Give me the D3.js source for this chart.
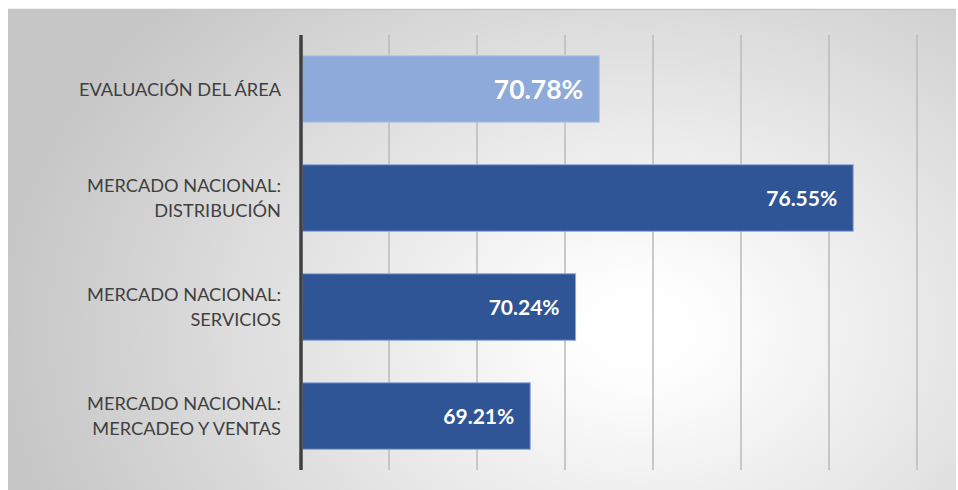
<!DOCTYPE html>
<html>
<head>
<meta charset="utf-8">
<script src="https://cdn.jsdelivr.net/npm/d3@7"></script>
<style>
  html, body { margin: 0; padding: 0; background: #ffffff; }
  svg { display: block; }
</style>
</head>
<body>
<svg id="chart" width="958" height="490"></svg>
<script>
// Categories (top to bottom) and their scores in percent
const categories = [
  ["EVALUACIÓN DEL ÁREA"],
  ["MERCADO NACIONAL:", "DISTRIBUCIÓN"],
  ["MERCADO NACIONAL:", "SERVICIOS"],
  ["MERCADO NACIONAL:", "MERCADEO Y VENTAS"]
];
const values = [70.78, 76.55, 70.24, 69.21];
const highlight = [true, false, false, false];
const xTicks = [64, 66, 68, 70, 72, 74, 76, 78];

const W = 958, H = 490;
const svg = d3.select("#chart");

// Background panel with soft radial shading
const defs = svg.append("defs");
const grad = defs.append("radialGradient")
  .attr("id", "bg")
  .attr("gradientUnits", "userSpaceOnUse")
  .attr("cx", 640).attr("cy", 330).attr("r", 640)
  .attr("gradientTransform", "translate(640,330) scale(1,0.75) translate(-640,-330)");
grad.append("stop").attr("offset", "0%").attr("stop-color", "#ffffff");
grad.append("stop").attr("offset", "12%").attr("stop-color", "#fdfdfd");
grad.append("stop").attr("offset", "100%").attr("stop-color", "#c6c6c6");

svg.append("rect")
  .attr("x", 8).attr("y", 9).attr("width", W - 10).attr("height", H - 9)
  .attr("fill", "url(#bg)");
svg.append("line")
  .attr("x1", 8).attr("x2", W - 2).attr("y1", 9.5).attr("y2", 9.5)
  .attr("stroke", "#c8c8c8").attr("stroke-width", 1.5);

const plot = { left: 301, right: 917, top: 35, bottom: 470 };

const x = d3.scaleLinear().domain([64, 78]).range([plot.left, plot.right]);
const y = d3.scaleBand()
  .domain(d3.range(categories.length))
  .range([plot.top, plot.bottom])
  .paddingInner(0.39).paddingOuter(0.19);

// Vertical gridlines
svg.append("g")
  .selectAll("line")
  .data(xTicks.slice(1))
  .join("line")
  .attr("x1", d => x(d)).attr("x2", d => x(d))
  .attr("y1", plot.top).attr("y2", plot.bottom)
  .attr("stroke", "#bdbdbd").attr("stroke-width", 1.6);

// Bars
svg.append("g")
  .selectAll("rect")
  .data(values)
  .join("rect")
  .attr("x", x(64) + 1.5)
  .attr("y", (d, i) => y(i))
  .attr("width", d => x(d) - x(64) - 1.5)
  .attr("height", y.bandwidth())
  .attr("fill", (d, i) => highlight[i] ? "#8eaadb" : "#2f5597")
  .attr("stroke", (d, i) => highlight[i] ? "#b4c7e7" : "#8fa9d6")
  .attr("stroke-width", 1);

// Value labels inside the bar ends
svg.append("g")
  .selectAll("text")
  .data(values)
  .join("text")
  .attr("x", d => x(d) - 16)
  .attr("y", (d, i) => y(i) + y.bandwidth() / 2)
  .attr("dy", "0.36em")
  .attr("text-anchor", "end")
  .attr("font-family", "Lato, 'Open Sans', sans-serif")
  .attr("font-weight", "bold")
  .attr("font-size", (d, i) => highlight[i] ? 26.5 : 21)
  .attr("fill", "#ffffff")
  .text(d => d.toFixed(2) + "%");

// Category axis line
svg.append("line")
  .attr("x1", x(64)).attr("x2", x(64))
  .attr("y1", plot.top).attr("y2", plot.bottom)
  .attr("stroke", "#404040").attr("stroke-width", 3.5);

// Category labels
const lab = svg.append("g")
  .selectAll("text")
  .data(categories)
  .join("text")
  .attr("text-anchor", "end")
  .attr("font-family", "Lato, 'Open Sans', sans-serif")
  .attr("font-size", 18.2)
  .attr("fill", "#404040")
  .attr("transform", (d, i) => `translate(281,${y(i) + y.bandwidth() / 2})`);
lab.selectAll("tspan")
  .data(d => d.map((t, k) => ({ t, k, n: d.length })))
  .join("tspan")
  .attr("x", 0)
  .attr("y", d => (d.k - (d.n - 1) / 2) * 25)
  .attr("dy", "0.36em")
  .text(d => d.t);
</script>
</body>
</html>
